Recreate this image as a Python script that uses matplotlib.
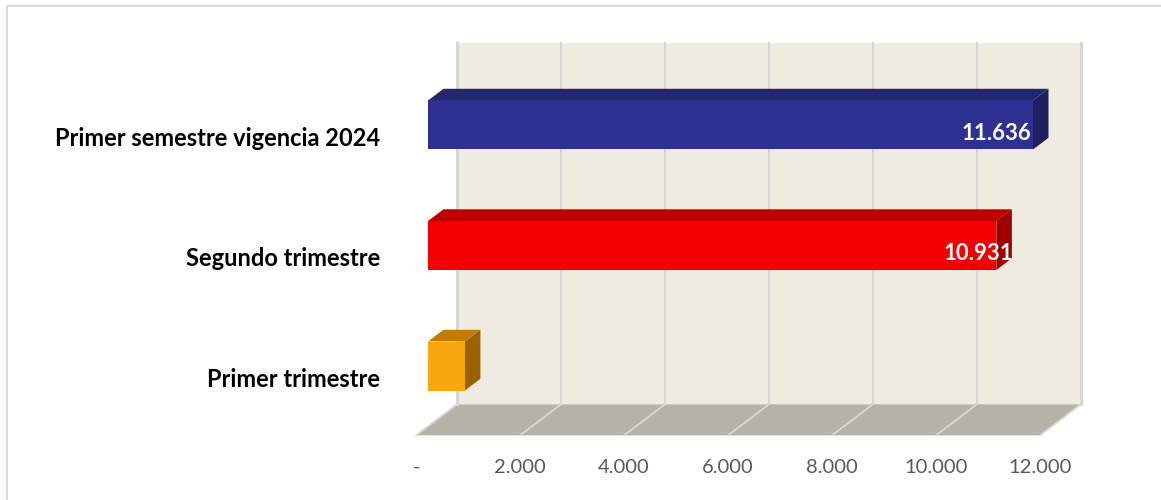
import matplotlib
matplotlib.use('Agg')
import matplotlib.pyplot as plt
from matplotlib.patches import Polygon, Rectangle

plt.rcParams['font.family'] = ['Lato', 'DejaVu Sans']

# data
categories = ['Primer trimestre', 'Segundo trimestre', 'Primer semestre vigencia 2024']
values = [710, 10931, 11636]
value_labels = ['', '10.931', '11.636']
ticks = [0, 2000, 4000, 6000, 8000, 10000, 12000]
tick_labels = ['-', '2.000', '4.000', '6.000', '8.000', '10.000', '12.000']

face_colors = ['#F9A70F', '#F50000', '#2E3192']
top_colors = ['#C27C00', '#BE0000', '#24266F']
side_colors = ['#9A6300', '#9E0000', '#1F215E']
label_nudge = [0, 18, 0]  # px

W, H = 1161, 500
px_x = 605 / 11636.0      # px per unit
px_y = 120.5              # px per category
x0, y0 = 428, 366         # bar front plane origin in px

fig = plt.figure(figsize=(W / 100, H / 100), dpi=100)
ax = fig.add_axes([0, 0, 1, 1])
ax.set_xlim(-x0 / px_x, (W - x0) / px_x)
ax.set_ylim((y0 - H) / px_y, y0 / px_y)
ax.axis('off')

DX = 41 / px_x
DY = 31 / px_y
d_floor = -12 / 41.0
d_wall = 1 + d_floor
d_back = 15.5 / 41.0
half = 24.5 / px_y
lo, hi = -0.5, len(categories) - 0.5
xmax = ticks[-1]


def P(v, c, d):
    return (v + d * DX, c + d * DY)


# back wall
ax.add_patch(Polygon([P(0, lo, d_wall), P(xmax, lo, d_wall), P(xmax, hi, d_wall), P(0, hi, d_wall)],
                     closed=True, fc='#EEEBE0', ec='none', zorder=1))
for t in ticks:
    a, b = P(t, lo, d_wall), P(t, hi, d_wall)
    lw = 2.2 if t in (0, xmax) else 1.5
    ax.plot([a[0], b[0]], [a[1], b[1]], color='#D6D6D6', lw=lw, zorder=2)

# floor
ax.add_patch(Polygon([P(0, lo, d_floor), P(xmax, lo, d_floor), P(xmax, lo, d_wall), P(0, lo, d_wall)],
                     closed=True, fc='#B5B2AA', ec='none', zorder=1))
for t, lab in zip(ticks, tick_labels):
    a, b = P(t, lo, d_floor), P(t, lo, d_wall)
    ax.plot([a[0], b[0]], [a[1], b[1]], color='#D9D8D2', lw=1.3, zorder=2)
    ax.annotate(lab, a, xytext=(0, -23), textcoords='offset points',
                ha='center', va='center', fontsize=14.5, color='#595959')

# bars
for i, (cat, v) in enumerate(zip(categories, values)):
    c = i
    ax.add_patch(Polygon([P(0, c + half, 0), P(v, c + half, 0), P(v, c + half, d_back), P(0, c + half, d_back)],
                         closed=True, fc=top_colors[i], ec='none', zorder=3))
    ax.add_patch(Polygon([P(v, c - half, 0), P(v, c + half, 0), P(v, c + half, d_back), P(v, c - half, d_back)],
                         closed=True, fc=side_colors[i], ec='none', zorder=3))
    ax.add_patch(Polygon([P(0, c - half, 0), P(v, c - half, 0), P(v, c + half, 0), P(0, c + half, 0)],
                         closed=True, fc=face_colors[i], ec='none', zorder=4))
    if value_labels[i]:
        ax.annotate(value_labels[i], P(v, c, 0), xytext=(label_nudge[i] * 0.72 - 1, -6),
                    textcoords='offset points', ha='right', va='center',
                    fontsize=16, fontweight='bold', color='white', zorder=5)
    ax.annotate(cat, P(0, c, 0), xytext=(-48 * 0.72, -9.5), textcoords='offset points',
                ha='right', va='center', fontsize=17, fontweight='bold', color='black')

# chart border
fig.patches.append(Rectangle((7 / W, -0.1), 1.2, 1.1 - 6 / H, transform=fig.transFigure,
                             fill=False, ec='#D9D9D9', lw=1.5))

fig.savefig('out.png', dpi=100)
